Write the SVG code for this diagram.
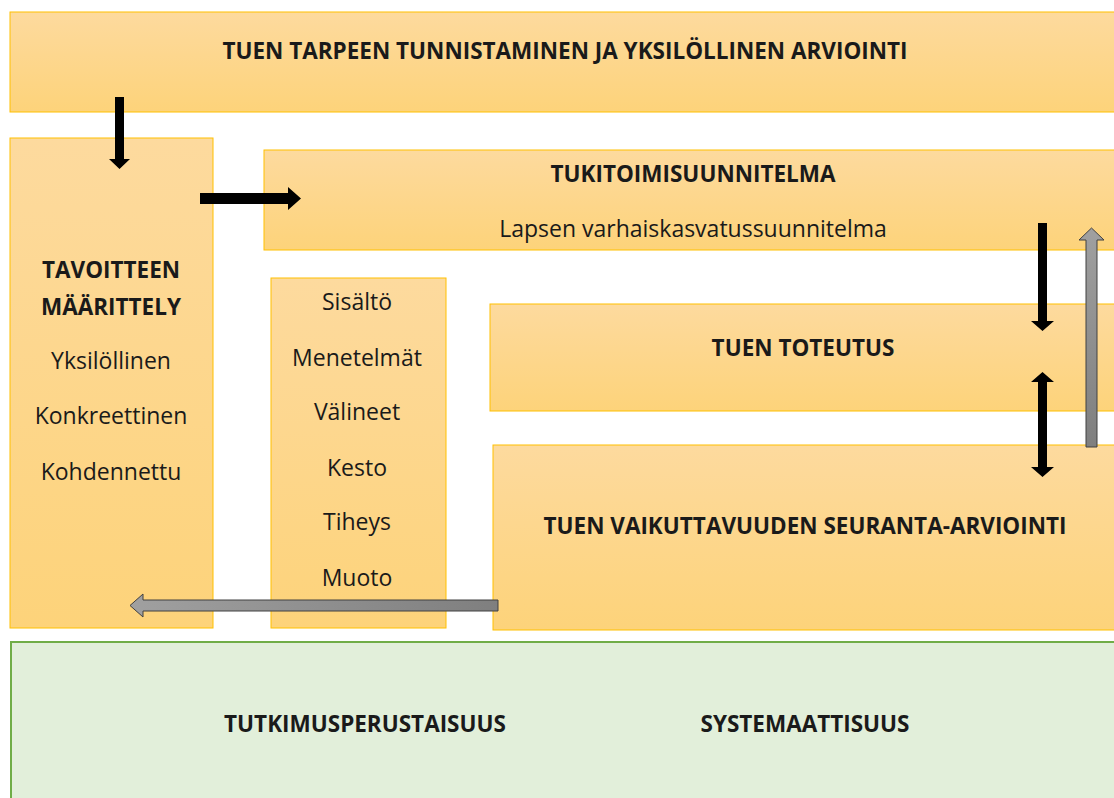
<svg xmlns="http://www.w3.org/2000/svg" width="1114" height="798" viewBox="0 0 1114 798">
<style>
.box{fill:url(#og);stroke:#FFC000;stroke-width:1}
.t{font-family:"Open Sans","Liberation Sans",sans-serif;fill:#1a1a1a;text-anchor:middle}
.b{font-weight:bold;font-size:22.5px}
.r{font-size:23px}
.blk{fill:#000}
.gry{fill:url(#gg);stroke:#404040;stroke-width:1}
</style>
<defs>
<linearGradient id="og" x1="0" y1="0" x2="0" y2="1">
<stop offset="0" stop-color="#FDDA9E"/>
<stop offset="1" stop-color="#FDD37A"/>
</linearGradient>
<linearGradient id="gg" x1="0" y1="0" x2="1" y2="0">
<stop offset="0" stop-color="#A0A0A0"/>
<stop offset="1" stop-color="#7F7F7F"/>
</linearGradient>
<linearGradient id="ggv" x1="0" y1="0" x2="0" y2="1">
<stop offset="0" stop-color="#A0A0A0"/>
<stop offset="1" stop-color="#7F7F7F"/>
</linearGradient>
</defs>
<rect width="1114" height="798" fill="#fff"/>
<g id="n-top"><rect class="box" x="10" y="12" width="1110" height="100"/>
<text class="t b" x="565" y="59">TUEN TARPEEN TUNNISTAMINEN JA YKSILÖLLINEN ARVIOINTI</text></g>
<g id="n-tavoite"><rect class="box" x="10" y="138" width="203" height="490"/>
<text class="t b" x="111" y="278">TAVOITTEEN</text>
<text class="t b" x="111" y="315">MÄÄRITTELY</text>
<text class="t r" x="111" y="369">Yksilöllinen</text>
<text class="t r" x="111" y="424">Konkreettinen</text>
<text class="t r" x="111" y="480">Kohdennettu</text></g>
<g id="n-tukitoimi"><rect class="box" x="264" y="150" width="860" height="100"/>
<text class="t b" x="693" y="182">TUKITOIMISUUNNITELMA</text>
<text class="t r" x="693" y="237">Lapsen varhaiskasvatussuunnitelma</text></g>
<g id="n-sisalto"><rect class="box" x="271" y="278" width="175" height="350"/>
<text class="t r" x="357" y="310">Sisältö</text>
<text class="t r" x="357" y="366">Menetelmät</text>
<text class="t r" x="357" y="420">Välineet</text>
<text class="t r" x="357" y="476">Kesto</text>
<text class="t r" x="357" y="530">Tiheys</text>
<text class="t r" x="357" y="586">Muoto</text></g>
<g id="n-toteutus"><rect class="box" x="490" y="304" width="630" height="107"/>
<text class="t b" x="803" y="356">TUEN TOTEUTUS</text></g>
<g id="n-seuranta"><rect class="box" x="493" y="445" width="630" height="185"/>
<text class="t b" x="805" y="534">TUEN VAIKUTTAVUUDEN SEURANTA-ARVIOINTI</text></g>
<g id="n-perusta"><rect x="11" y="642" width="1110" height="170" fill="#E2EFDA" stroke="#70AD47" stroke-width="2"/>
<text class="t b" x="365" y="732">TUTKIMUSPERUSTAISUUS</text>
<text class="t b" x="805" y="732">SYSTEMAATTISUUS</text></g>
<g id="connectors">
<polygon class="blk" points="115,97 124,97 124,159 130,159 119.5,169 109,159 115,159"/>
<polygon class="blk" points="200,193 288,193 288,187 301,198.5 288,210 288,204 200,204"/>
<polygon class="blk" points="1038,223 1047,223 1047,321 1054,321 1042.5,331 1031,321 1038,321"/>
<polygon class="blk" points="1042.5,372 1054,382 1047,382 1047,467 1054,467 1042.5,477 1031,467 1038,467 1038,382 1031,382"/>
<polygon fill="url(#ggv)" stroke="#404040" stroke-width="1" points="1086,447 1097,447 1097,240 1104,240 1091.5,228 1079,240 1086,240"/>
<polygon class="gry" points="498,600 498,611 143,611 143,617 130,605.5 143,594 143,600"/>
</g>
</svg>
